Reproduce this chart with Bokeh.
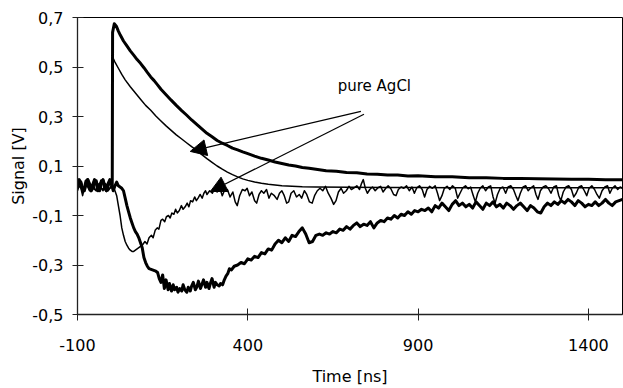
from bokeh.plotting import figure
from bokeh.models import Range1d, FixedTicker, CustomJSTickFormatter, Arrow, NormalHead, Label
from bokeh.embed import file_html
from bokeh.resources import INLINE

# ---- data (time in ns, signal in V) ----
pos_thick_pts = [
    (-100, 0.02), (-95, 0.04), (-90, 0.035), (-85, 0.005), (-80, 0.0), (-75, 0.025), (-70, 0.045),
    (-65, 0.03), (-60, 0.0), (-55, 0.01), (-50, 0.04), (-45, 0.04), (-40, 0.01), (-35, 0.0),
    (-30, 0.03), (-25, 0.045), (-20, 0.02), (-15, 0.0), (-10, 0.02), (-5, 0.04), (0, 0.03), (2, 0.02),
    (3, 0.64), (8, 0.675), (14, 0.665), (20, 0.645), (26, 0.628), (35, 0.605), (45, 0.585),
    (55, 0.565), (65, 0.548), (75, 0.53), (85, 0.515), (95, 0.497), (105, 0.478), (115, 0.46),
    (125, 0.445), (135, 0.428), (145, 0.41), (160, 0.388), (175, 0.366), (190, 0.345), (205, 0.325),
    (220, 0.306), (235, 0.286), (250, 0.268), (265, 0.25), (280, 0.232), (295, 0.218), (310, 0.203),
    (325, 0.192), (340, 0.183), (355, 0.172), (370, 0.165), (385, 0.157), (400, 0.15), (420, 0.14),
    (440, 0.131), (460, 0.124), (480, 0.116), (500, 0.11), (520, 0.104), (540, 0.1), (560, 0.094),
    (580, 0.091), (600, 0.087), (630, 0.081), (660, 0.079), (690, 0.074), (720, 0.073), (750, 0.068),
    (780, 0.067), (810, 0.064), (840, 0.064), (870, 0.06), (900, 0.061), (950, 0.057), (1000, 0.057),
    (1050, 0.053), (1100, 0.053), (1150, 0.05), (1200, 0.05), (1250, 0.048), (1300, 0.047),
    (1350, 0.046), (1400, 0.046), (1450, 0.044), (1500, 0.044),
]

pos_thin_pts = [
    (-100, 0.01), (-95, 0.03), (-90, 0.02), (-85, 0.0), (-80, 0.015), (-75, 0.035), (-70, 0.02),
    (-65, 0.005), (-60, 0.02), (-55, 0.03), (-50, 0.01), (-45, 0.0), (-40, 0.025), (-35, 0.03),
    (-30, 0.01), (-25, 0.005), (-20, 0.03), (-15, 0.025), (-10, 0.0), (-5, 0.01), (0, 0.02), (2, 0.02),
    (3, 0.54), (10, 0.52), (20, 0.495), (30, 0.47), (40, 0.448), (55, 0.42), (70, 0.395), (85, 0.37),
    (100, 0.345), (115, 0.325), (130, 0.302), (145, 0.282), (160, 0.262), (175, 0.244), (190, 0.226),
    (205, 0.21), (220, 0.194), (235, 0.178), (250, 0.163), (265, 0.146), (280, 0.13), (295, 0.115),
    (310, 0.1), (325, 0.087), (340, 0.075), (355, 0.065), (370, 0.056), (385, 0.048), (400, 0.042),
    (420, 0.035), (440, 0.03), (460, 0.026), (480, 0.023), (500, 0.02), (530, 0.018), (560, 0.016),
    (600, 0.015), (700, 0.014), (800, 0.013), (900, 0.013), (1000, 0.012), (1100, 0.012),
    (1200, 0.012), (1300, 0.012), (1400, 0.012), (1500, 0.012),
]

neg_thin_pts = [
    (-100, 0.0), (-95, 0.02), (-90, 0.01), (-85, -0.02), (-80, 0.01), (-75, 0.03), (-70, 0.015),
    (-65, 0.0), (-60, 0.02), (-55, 0.025), (-50, 0.005), (-45, 0.0), (-40, 0.02), (-35, 0.03),
    (-30, 0.01), (-25, 0.0), (-20, 0.02), (-15, 0.025), (-10, 0.005), (-5, 0.01), (0, 0.02), (5, 0.015),
    (10, 0.0), (15, -0.02), (20, -0.06), (25, -0.1), (30, -0.15), (35, -0.18), (40, -0.205),
    (45, -0.22), (50, -0.232), (55, -0.24), (60, -0.245), (65, -0.245), (70, -0.24), (80, -0.23),
    (90, -0.22), (98, -0.205), (104, -0.215), (110, -0.19), (117, -0.18), (122, -0.19), (128, -0.16),
    (134, -0.15), (139, -0.155), (145, -0.12), (150, -0.115), (156, -0.125), (161, -0.105),
    (167, -0.1), (172, -0.11), (177, -0.09), (183, -0.095), (188, -0.075), (193, -0.09), (199, -0.08),
    (205, -0.06), (210, -0.075), (216, -0.065), (222, -0.05), (227, -0.065), (232, -0.04),
    (238, -0.045), (244, -0.025), (249, -0.04), (254, -0.03), (260, -0.015), (266, -0.03),
    (271, -0.01), (276, 0.0), (280, -0.015), (288, 0.0), (296, -0.01), (303, 0.008), (310, -0.005),
    (318, 0.01), (325, -0.02), (331, 0.0), (340, 0.005), (348, -0.025), (356, -0.005), (363, -0.045),
    (369, -0.06), (376, -0.02), (384, 0.005), (392, 0.0), (398, 0.01), (405, -0.02), (412, -0.005),
    (420, -0.04), (426, -0.05), (433, -0.015), (440, 0.0), (447, -0.01), (455, 0.005), (462, -0.03),
    (469, -0.01), (478, -0.02), (486, -0.035), (493, -0.01), (500, 0.0), (507, -0.02), (514, -0.05),
    (520, -0.045), (527, -0.01), (535, 0.0), (543, -0.025), (551, -0.015), (558, -0.03), (566, 0.0),
    (573, -0.015), (581, -0.045), (589, -0.05), (596, -0.02), (604, 0.0), (612, 0.01), (620, 0.0),
    (628, 0.018), (636, -0.01), (644, -0.03), (652, -0.055), (659, -0.04), (666, -0.005), (674, 0.01),
    (681, -0.01), (689, 0.0), (697, 0.018), (704, 0.005), (712, 0.012), (720, 0.02), (728, 0.005),
    (734, 0.03), (739, 0.045), (745, 0.01), (751, -0.01), (758, 0.005), (766, 0.015), (774, 0.0),
    (782, 0.012), (790, 0.018), (797, -0.005), (805, 0.01), (812, 0.02), (820, 0.008), (828, -0.015),
    (835, -0.02), (842, 0.005), (850, 0.015), (858, 0.01), (866, 0.02), (874, 0.0), (882, 0.015),
    (889, -0.01), (896, 0.012), (904, 0.02), (912, 0.005), (919, -0.025), (926, 0.005), (934, 0.018),
    (942, 0.01), (950, 0.02), (957, -0.01), (963, -0.04), (970, -0.02), (977, 0.01), (985, 0.018),
    (993, 0.005), (1001, 0.02), (1009, 0.01), (1016, -0.03), (1023, -0.01), (1031, 0.012),
    (1039, 0.02), (1047, 0.008), (1054, 0.015), (1062, -0.02), (1068, -0.045), (1075, -0.01),
    (1083, 0.012), (1090, 0.02), (1098, 0.0), (1106, 0.015), (1113, 0.02), (1120, -0.025),
    (1126, -0.05), (1133, -0.015), (1141, 0.01), (1149, 0.015), (1157, -0.01), (1164, 0.015),
    (1172, 0.02), (1180, 0.005), (1187, -0.02), (1193, -0.04), (1200, -0.01), (1208, 0.015),
    (1216, 0.02), (1223, 0.0), (1231, 0.012), (1239, 0.02), (1246, -0.015), (1252, -0.035),
    (1259, 0.0), (1267, 0.015), (1275, 0.02), (1283, 0.008), (1290, -0.01), (1298, 0.015),
    (1306, 0.02), (1313, -0.02), (1319, -0.04), (1326, -0.005), (1334, 0.015), (1342, 0.02),
    (1350, 0.005), (1357, -0.025), (1364, -0.01), (1372, 0.015), (1380, 0.02), (1388, 0.0),
    (1395, -0.02), (1402, 0.01), (1410, 0.02), (1418, 0.005), (1425, -0.015), (1432, -0.03),
    (1440, 0.0), (1448, 0.015), (1456, 0.02), (1463, -0.01), (1470, 0.01), (1478, 0.02),
    (1486, 0.005), (1493, 0.015), (1500, 0.01),
]

neg_thick_pts = [
    (-100, 0.02), (-95, 0.045), (-90, 0.03), (-85, 0.0), (-80, 0.01), (-75, 0.04), (-70, 0.045),
    (-65, 0.015), (-60, 0.0), (-55, 0.025), (-50, 0.045), (-45, 0.03), (-40, 0.0), (-35, 0.015),
    (-30, 0.04), (-25, 0.04), (-20, 0.01), (-15, 0.0), (-10, 0.03), (-5, 0.045), (0, 0.025), (5, 0.0),
    (10, 0.02), (15, 0.035), (20, 0.02), (25, 0.015), (30, 0.01), (35, 0.0), (40, -0.03), (45, -0.06),
    (50, -0.085), (55, -0.11), (60, -0.13), (65, -0.15), (70, -0.165), (75, -0.175), (80, -0.19),
    (85, -0.21), (90, -0.23), (95, -0.27), (100, -0.29), (105, -0.305), (110, -0.315), (120, -0.32),
    (130, -0.325), (135, -0.33), (140, -0.355), (145, -0.37), (150, -0.34), (155, -0.395),
    (160, -0.36), (166, -0.4), (170, -0.375), (176, -0.405), (181, -0.38), (185, -0.4), (191, -0.39),
    (195, -0.41), (200, -0.395), (206, -0.405), (210, -0.38), (215, -0.4), (221, -0.41), (225, -0.39),
    (231, -0.405), (235, -0.385), (240, -0.37), (246, -0.4), (250, -0.39), (255, -0.365),
    (261, -0.395), (265, -0.38), (270, -0.36), (276, -0.39), (280, -0.37), (286, -0.395),
    (290, -0.375), (295, -0.355), (301, -0.39), (305, -0.37), (310, -0.38), (316, -0.385),
    (320, -0.375), (326, -0.38), (331, -0.36), (336, -0.345), (341, -0.335), (346, -0.315),
    (352, -0.32), (360, -0.305), (370, -0.3), (380, -0.29), (390, -0.295), (400, -0.275),
    (410, -0.28), (420, -0.265), (430, -0.27), (440, -0.25), (450, -0.255), (460, -0.235),
    (470, -0.24), (480, -0.215), (490, -0.2), (500, -0.21), (510, -0.19), (520, -0.205), (530, -0.18),
    (540, -0.185), (550, -0.165), (560, -0.15), (570, -0.175), (580, -0.21), (590, -0.205),
    (600, -0.18), (610, -0.175), (620, -0.18), (630, -0.17), (640, -0.175), (650, -0.165),
    (660, -0.17), (670, -0.155), (680, -0.16), (690, -0.145), (700, -0.155), (710, -0.14),
    (720, -0.13), (730, -0.145), (740, -0.135), (750, -0.14), (760, -0.125), (770, -0.15),
    (780, -0.13), (790, -0.12), (800, -0.125), (810, -0.11), (820, -0.115), (830, -0.1), (840, -0.11),
    (850, -0.095), (860, -0.1), (870, -0.085), (880, -0.095), (890, -0.08), (900, -0.085),
    (910, -0.075), (920, -0.08), (930, -0.07), (940, -0.085), (950, -0.06), (960, -0.07), (970, -0.05),
    (980, -0.065), (990, -0.08), (1000, -0.055), (1010, -0.04), (1020, -0.06), (1030, -0.05),
    (1040, -0.065), (1050, -0.055), (1060, -0.07), (1070, -0.045), (1080, -0.06), (1090, -0.075),
    (1100, -0.05), (1110, -0.06), (1120, -0.045), (1130, -0.065), (1140, -0.055), (1150, -0.07),
    (1160, -0.05), (1170, -0.06), (1180, -0.075), (1190, -0.06), (1200, -0.05), (1210, -0.065),
    (1220, -0.08), (1230, -0.06), (1240, -0.07), (1250, -0.085), (1260, -0.09), (1270, -0.065),
    (1280, -0.05), (1290, -0.06), (1300, -0.045), (1310, -0.055), (1320, -0.04), (1330, -0.05),
    (1340, -0.035), (1350, -0.045), (1360, -0.06), (1370, -0.04), (1380, -0.05), (1390, -0.065),
    (1400, -0.055), (1410, -0.06), (1420, -0.045), (1430, -0.06), (1440, -0.05), (1450, -0.035),
    (1460, -0.05), (1470, -0.06), (1480, -0.045), (1490, -0.04), (1500, -0.035),
]

x_ticks = [-100, 400, 900, 1400]
y_ticks = [-0.5, -0.3, -0.1, 0.1, 0.3, 0.5, 0.7]

annotation_text = "pure AgCl"
annotation_pos = (664, 0.424)
arrow_starts = [(732, 0.321), (741, 0.309)]
arrow_tips = [(231, 0.159), (290, -0.003)]

FONT = "DejaVu Sans"

p = figure(width=623, height=388, output_backend="svg", toolbar_location=None,
           x_range=Range1d(-100, 1500), y_range=Range1d(-0.5, 0.7),
           min_border_left=77, min_border_right=1, min_border_top=17, min_border_bottom=67)

p.background_fill_color = "white"
p.border_fill_color = "white"
p.outline_line_color = "black"
p.outline_line_width = 1
p.xgrid.visible = False
p.ygrid.visible = False


def split(pts):
    return [a for a, _ in pts], [b for _, b in pts]


for pts, lw in [(pos_thin_pts, 1.5), (neg_thin_pts, 1.5), (pos_thick_pts, 3), (neg_thick_pts, 3)]:
    xs, ys = split(pts)
    p.line(xs, ys, line_color="black", line_width=lw, line_join="round")

for (xs0, ys0), (xe, ye) in zip(arrow_starts, arrow_tips):
    p.add_layout(Arrow(end=NormalHead(size=16, fill_color="black", line_color="black", line_width=1),
                       x_start=xs0, y_start=ys0, x_end=xe, y_end=ye,
                       line_color="black", line_width=1.2))

p.add_layout(Label(x=annotation_pos[0], y=annotation_pos[1], text=annotation_text,
                   text_baseline="middle", text_align="left",
                   text_font=FONT, text_font_size="15px", text_color="black"))

p.xaxis.ticker = FixedTicker(ticks=x_ticks)
p.yaxis.ticker = FixedTicker(ticks=y_ticks)
p.xaxis.formatter = CustomJSTickFormatter(code="return tick.toFixed(0);")
p.yaxis.formatter = CustomJSTickFormatter(code="return tick.toFixed(1).replace('.', ',');")

p.xaxis.axis_label = "Time [ns]"
p.yaxis.axis_label = "Signal [V]"

for ax in (p.xaxis[0], p.yaxis[0]):
    ax.axis_line_color = "#222222"
    ax.axis_line_width = 1.3
    ax.major_tick_line_color = "#222222"
    ax.minor_tick_line_color = None
    ax.major_label_text_font = FONT
    ax.major_label_text_font_size = "16px"
    ax.major_label_text_color = "black"
    ax.axis_label_text_font = FONT
    ax.axis_label_text_font_size = "16px"
    ax.axis_label_text_font_style = "normal"
    ax.axis_label_text_color = "black"

p.xaxis.major_tick_in = 6
p.xaxis.major_tick_out = 6
p.xaxis.major_label_standoff = 18
p.xaxis.axis_label_standoff = 13
p.yaxis.major_tick_in = 6
p.yaxis.major_tick_out = 5
p.yaxis.major_label_standoff = 9
p.yaxis.axis_label_standoff = 1

open("out.html", "w").write(file_html(p, INLINE))
